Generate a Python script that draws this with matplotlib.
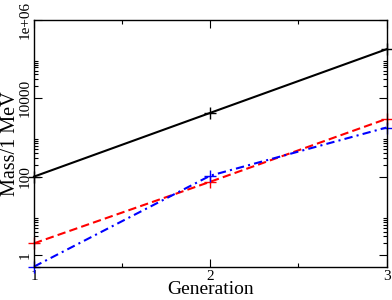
import matplotlib
matplotlib.use("Agg")
import matplotlib.pyplot as plt
from matplotlib.ticker import FixedLocator, NullFormatter, FixedFormatter

plt.rcParams['font.family'] = ['Liberation Serif', 'DejaVu Serif']

generation = [1, 2, 3]
black_vals = [100, 4200, 175000]
red_vals = [2.0, 74, 2950]
blue_vals = [0.511, 105.7, 1777]

y_ticks = [1, 100, 10000, 1e6]
y_labels = ["1", "100", "10000", "1e+06"]
x_ticks = [1, 2, 3]
x_labels = ["1", "2", "3"]

fig = plt.figure(figsize=(3.92, 3.00), dpi=100)
ax = fig.add_axes([34/392, 33/300, (386.5-34)/392, (267-19.5)/300])

ax.plot(generation, black_vals, color='black', lw=1.5, ls='-',
        marker='+', ms=8, mew=1, clip_on=False)
ax.plot(generation, red_vals, color='#ff0000', lw=1.5, ls=(0, (4, 2)),
        marker='+', ms=8, mew=1, clip_on=False)
ax.plot(generation, blue_vals, color='#0000ff', lw=1.5, ls=(0, (4, 2, 1, 2)),
        marker='+', ms=8, mew=1, clip_on=False)

ax.set_yscale('log')
ax.set_xlim(1, 3)
ax.set_ylim(0.5, 1e6)

minor_y = [k * m for m in y_ticks[:-1] for k in range(2, 10)]
ax.yaxis.set_major_locator(FixedLocator(y_ticks))
ax.yaxis.set_major_formatter(FixedFormatter(y_labels))
ax.yaxis.set_minor_locator(FixedLocator(minor_y))
ax.yaxis.set_minor_formatter(NullFormatter())
ax.xaxis.set_major_locator(FixedLocator(x_ticks))
ax.xaxis.set_major_formatter(FixedFormatter(x_labels))
ax.xaxis.set_minor_locator(FixedLocator([1.5, 2.5]))

ax.tick_params(which='both', direction='in', top=True, right=True, width=0.8,
               labelsize=11, pad=2)
ax.tick_params(which='major', length=6)
ax.tick_params(which='minor', length=3)
for lab in ax.get_yticklabels():
    lab.set_rotation(90)
    lab.set_va('center')

for s in ax.spines.values():
    s.set_linewidth(1)

ax.set_xlabel("Generation", fontsize=14, labelpad=-1)
ax.set_ylabel("Mass/1 MeV", fontsize=14.5, labelpad=-1)

fig.savefig("out.png", dpi=100)
